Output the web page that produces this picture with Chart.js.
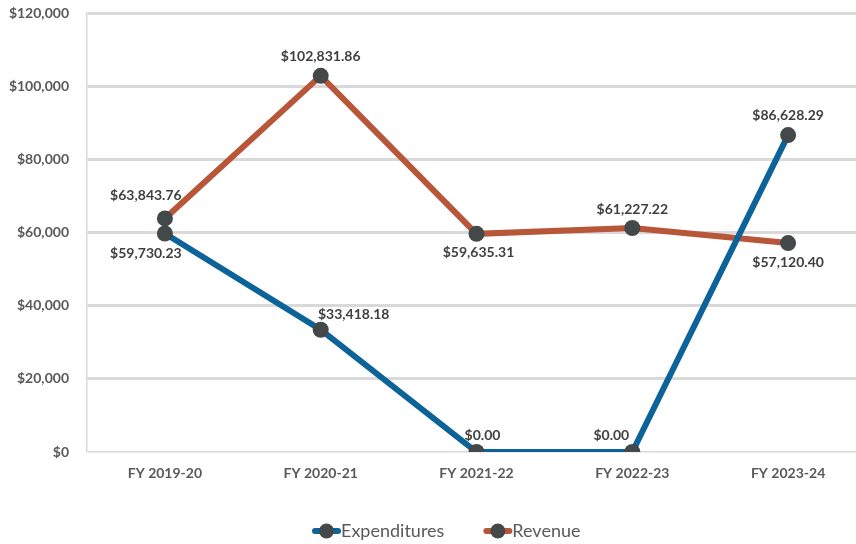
<!DOCTYPE html>
<html>
<head>
<meta charset="utf-8">
<script src="https://cdn.jsdelivr.net/npm/chart.js@4/dist/chart.umd.min.js"></script>
<style>
  html, body { margin: 0; padding: 0; background: #ffffff; overflow: hidden; }
  #wrap { width: 866px; height: 544px; }
</style>
</head>
<body>
<div id="wrap"><canvas id="c" width="866" height="544"></canvas></div>
<script>
// Fiscal years on the category axis
const fiscalYears = ['FY 2019-20', 'FY 2020-21', 'FY 2021-22', 'FY 2022-23', 'FY 2023-24'];
// Dollar amounts per year
const expenditures = [59730.23, 33418.18, 0.00, 0.00, 86628.29];
const revenue = [63843.76, 102831.86, 59635.31, 61227.22, 57120.40];
// Value axis range
const yMin = 0;
const yMax = 120000;
const yStep = 20000;

const FONT = 'Lato, "Open Sans", "DejaVu Sans", sans-serif';
const money2 = v => '$' + v.toLocaleString('en-US', { minimumFractionDigits: 2, maximumFractionDigits: 2 });
const money0 = v => '$' + v.toLocaleString('en-US', { maximumFractionDigits: 0 });

// Label placement around each point: [dx, dy] from the marker centre
const labelOffsets = [
  [[-19, 20], [33, -15], [6, -17], [-21, -17], [0, -20]],
  [[-19, -23], [0, -19], [2, 19], [0, -19], [0, 19]]
];

const valueLabels = {
  id: 'valueLabels',
  afterDatasetsDraw(chart) {
    const ctx = chart.ctx;
    ctx.save();
    ctx.font = 'bold 14px ' + FONT;
    ctx.fillStyle = '#404040';
    ctx.textAlign = 'center';
    ctx.textBaseline = 'middle';
    chart.data.datasets.forEach((ds, di) => {
      const meta = chart.getDatasetMeta(di);
      meta.data.forEach((pt, i) => {
        const off = labelOffsets[di][i];
        ctx.fillText(money2(ds.data[i]), pt.x + off[0], pt.y + off[1]);
      });
    });
    ctx.restore();
  }
};

const lineLegend = {
  id: 'lineLegend',
  afterDraw(chart) {
    const ctx = chart.ctx;
    const y = 531;
    let x = 312;
    ctx.save();
    ctx.font = '18px ' + FONT;
    ctx.textBaseline = 'middle';
    chart.data.datasets.forEach(ds => {
      ctx.strokeStyle = ds.borderColor;
      ctx.lineWidth = 6;
      ctx.lineCap = 'round';
      ctx.beginPath();
      ctx.moveTo(x + 3, y);
      ctx.lineTo(x + 26, y);
      ctx.stroke();
      ctx.fillStyle = ds.pointBackgroundColor;
      ctx.beginPath();
      ctx.arc(x + 14.5, y, 7.5, 0, Math.PI * 2);
      ctx.fill();
      ctx.fillStyle = '#595959';
      ctx.textAlign = 'left';
      ctx.fillText(ds.label, x + 29, y);
      x += 29 + ctx.measureText(ds.label).width + 39;
    });
    ctx.restore();
  }
};

new Chart(document.getElementById('c'), {
  type: 'line',
  data: {
    labels: fiscalYears,
    datasets: [
      {
        label: 'Expenditures',
        data: expenditures,
        borderColor: '#0C6399',
        borderWidth: 6,
        pointBackgroundColor: '#434849',
        pointBorderColor: '#434849',
        pointRadius: 8,
        pointBorderWidth: 0,
        tension: 0
      },
      {
        label: 'Revenue',
        data: revenue,
        borderColor: '#B8563A',
        borderWidth: 6,
        pointBackgroundColor: '#434849',
        pointBorderColor: '#434849',
        pointRadius: 8,
        pointBorderWidth: 0,
        tension: 0
      }
    ]
  },
  options: {
    responsive: false,
    animation: false,
    layout: { autoPadding: false, padding: { top: 13, left: 0, right: 0, bottom: 52 } },
    plugins: {
      legend: { display: false },
      tooltip: { enabled: false }
    },
    scales: {
      x: {
        offset: true,
        grid: { display: false, drawTicks: false },
        border: { display: false },
        ticks: {
          padding: 13,
          color: '#595959',
          font: { family: FONT, size: 14, weight: 'bold' }
        },
        afterFit(s) { s.height = 40; }
      },
      y: {
        min: yMin,
        max: yMax,
        ticks: {
          stepSize: yStep,
          padding: 0,
          color: '#595959',
          font: { family: FONT, size: 14, weight: 'bold' },
          callback: v => money0(v)
        },
        grid: {
          drawTicks: true,
          tickLength: 18,
          tickColor: 'rgba(0,0,0,0)',
          color: '#D9D9D9',
          lineWidth: ctx => (ctx.tick && ctx.tick.value === 0 ? 1.5 : 3)
        },
        border: { display: true, color: '#D9D9D9', width: 1.5 },
        afterFit(s) { s.width = 87; }
      }
    }
  },
  plugins: [valueLabels, lineLegend]
});
</script>
</body>
</html>
